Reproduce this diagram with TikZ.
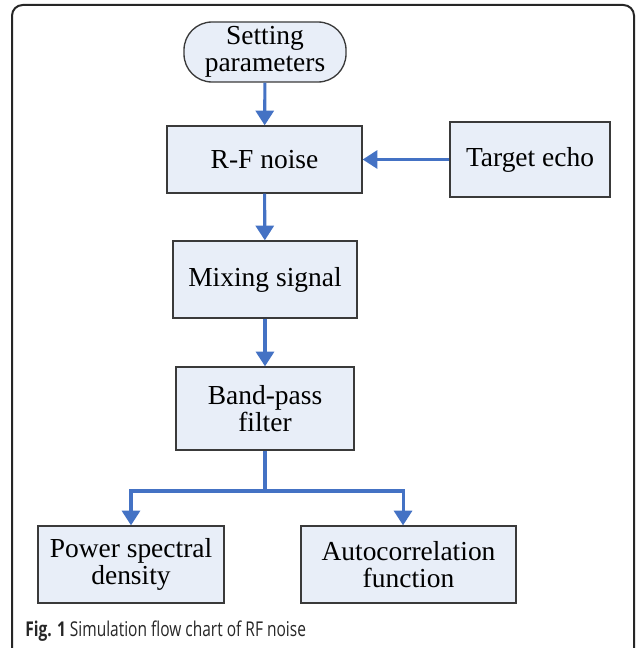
\documentclass[tikz,border=0pt]{standalone}
\usepackage{fontspec}
\setmainfont{Liberation Serif}
\newfontfamily\capfont[FakeStretch=0.76]{Open Sans}
\usetikzlibrary{arrows.meta}
\definecolor{boxfill}{HTML}{E8EEF8}
\definecolor{boxline}{HTML}{3A3A3A}
\definecolor{arrowblue}{HTML}{4472C4}
\tikzset{
  stepbox/.style={draw=boxline, line width=1pt, fill=boxfill, align=center,
    inner sep=0pt, font=\fontsize{20.6}{20}\selectfont, text=black},
  flow/.style={draw=arrowblue, line width=2.3pt, -{Triangle[width=13.5pt,length=11pt]}},
}
\begin{document}
\begin{tikzpicture}[x=0.75pt,y=-0.75pt]
\useasboundingbox (0,0) rectangle (637,648);
\begin{scope}
\clip (0,0) rectangle (637,648);
\draw[line width=1.5pt, draw=black!85, rounded corners=8pt] (12,5) rectangle (634,660);
\end{scope}
\node[stepbox, rounded corners=21pt, minimum width=121.5pt, minimum height=45pt] (set) at (265,52) {Setting\\parameters};
\node[stepbox, minimum width=146.25pt, minimum height=50.25pt] (rf) at (264.5,159.5) {R-F noise};
\node[stepbox, minimum width=120pt, minimum height=56.25pt] (te) at (530,159.5) {Target echo};
\node[stepbox, minimum width=138pt, minimum height=57.75pt] (mix) at (265,279.5) {Mixing signal};
\node[stepbox, minimum width=133.5pt, minimum height=62.25pt] (bp) at (265,408.5) {Band-pass\\filter};
\node[stepbox, minimum width=139.5pt, minimum height=57.75pt] (psd) at (131,564.5) {Power spectral\\density};
\node[stepbox, minimum width=161.25pt, minimum height=57.75pt] (ac) at (408.5,564.5) {Autocorrelation\\function};
\coordinate (br) at (265,491);
\draw[flow] (set) -- (rf);
\draw[flow] (te) -- (rf);
\draw[flow] (rf) -- (mix);
\draw[flow] (mix) -- (bp);
\draw[draw=arrowblue, line width=2.3pt] (bp.south) -- (br);
\draw[flow] (br) -| (psd.north);
\draw[flow] (br) -| ([xshift=-4.1pt]ac.north);
\node[anchor=base west, inner sep=0pt, font=\capfont\fontsize{15.3}{16}\selectfont, text=black!85] (cap) at (25,636) {\textbf{Fig. 1} Simulation flow chart of RF noise};
\end{tikzpicture}
\end{document}
